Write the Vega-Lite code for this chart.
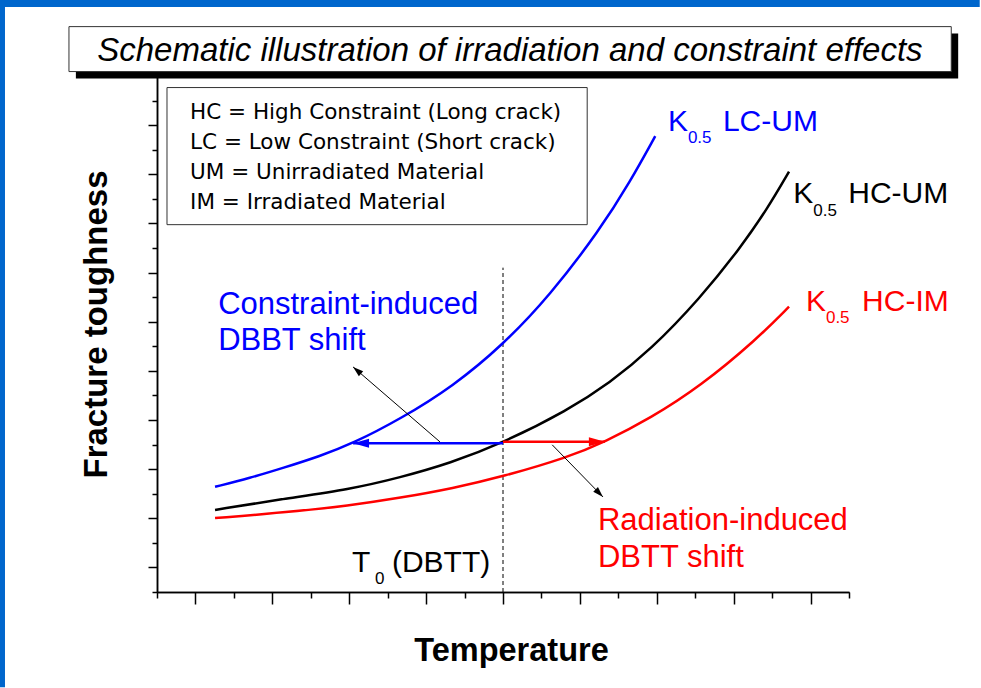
{
  "$schema": "https://vega.github.io/schema/vega-lite/v6.json",
  "width": 692,
  "height": 516,
  "autosize": "none",
  "padding": {"left": 157, "top": 76, "right": 132, "bottom": 96},
  "background": "white",
  "config": {"view": {"stroke": null}},
  "data": {"values": [{}]},
  "resolve": {"axis": {"x": "independent", "y": "independent"}},
  "datasets": {
    "curves": [
      {"series": "LC-UM", "t": 1.51, "k": 4.28},
      {"series": "LC-UM", "t": 2.42, "k": 4.64},
      {"series": "LC-UM", "t": 3.28, "k": 5.05},
      {"series": "LC-UM", "t": 4.24, "k": 5.53},
      {"series": "LC-UM", "t": 5.10, "k": 6.05},
      {"series": "LC-UM", "t": 6.32, "k": 7.03},
      {"series": "LC-UM", "t": 7.70, "k": 8.37},
      {"series": "LC-UM", "t": 9.00, "k": 10.06},
      {"series": "LC-UM", "t": 10.22, "k": 12.07},
      {"series": "LC-UM", "t": 11.52, "k": 14.74},
      {"series": "LC-UM", "t": 12.30, "k": 16.68},
      {"series": "LC-UM", "t": 12.96, "k": 18.55},
      {"series": "HC-UM", "t": 1.51, "k": 3.34},
      {"series": "HC-UM", "t": 3.28, "k": 3.79},
      {"series": "HC-UM", "t": 5.02, "k": 4.18},
      {"series": "HC-UM", "t": 6.32, "k": 4.66},
      {"series": "HC-UM", "t": 7.62, "k": 5.24},
      {"series": "HC-UM", "t": 9.00, "k": 6.07},
      {"series": "HC-UM", "t": 10.67, "k": 7.38},
      {"series": "HC-UM", "t": 11.78, "k": 8.52},
      {"series": "HC-UM", "t": 12.83, "k": 9.84},
      {"series": "HC-UM", "t": 14.13, "k": 11.96},
      {"series": "HC-UM", "t": 15.17, "k": 14.00},
      {"series": "HC-UM", "t": 15.87, "k": 15.58},
      {"series": "HC-UM", "t": 16.44, "k": 17.11},
      {"series": "HC-IM", "t": 1.51, "k": 3.01},
      {"series": "HC-IM", "t": 3.28, "k": 3.23},
      {"series": "HC-IM", "t": 5.02, "k": 3.52},
      {"series": "HC-IM", "t": 6.32, "k": 3.83},
      {"series": "HC-IM", "t": 7.70, "k": 4.22},
      {"series": "HC-IM", "t": 9.00, "k": 4.70},
      {"series": "HC-IM", "t": 10.67, "k": 5.47},
      {"series": "HC-IM", "t": 11.65, "k": 6.11},
      {"series": "HC-IM", "t": 12.83, "k": 7.07},
      {"series": "HC-IM", "t": 14.13, "k": 8.37},
      {"series": "HC-IM", "t": 15.61, "k": 10.30},
      {"series": "HC-IM", "t": 16.44, "k": 11.61}
    ],
    "arrows": [
      {"arrow": "constraint", "series": "LC-UM", "x": 9.0, "y": 6.05, "tipx": 5.10, "tipy": 6.05},
      {"arrow": "radiation", "series": "HC-IM", "x": 9.0, "y": 6.11, "tipx": 11.65, "tipy": 6.11},
      {"arrow": "constraintPointer", "series": "HC-UM", "x": 7.36, "y": 6.11, "tipx": 5.10, "tipy": 9.16},
      {"arrow": "radiationPointer", "series": "HC-UM", "x": 10.28, "y": 5.99, "tipx": 11.60, "tipy": 3.87}
    ],
    "labels": [
      {"text": "K", "series": "LC-UM", "role": "main", "x": 13.29, "y": 18.76},
      {"text": "0.5", "series": "LC-UM", "role": "sub", "x": 13.81, "y": 18.29},
      {"text": "LC-UM", "series": "LC-UM", "role": "main", "x": 14.72, "y": 18.76},
      {"text": "K", "series": "HC-UM", "role": "main", "x": 16.55, "y": 15.85},
      {"text": "0.5", "series": "HC-UM", "role": "sub", "x": 17.07, "y": 15.32},
      {"text": "HC-UM", "series": "HC-UM", "role": "main", "x": 17.98, "y": 15.85},
      {"text": "K", "series": "HC-IM", "role": "main", "x": 16.88, "y": 11.45},
      {"text": "0.5", "series": "HC-IM", "role": "sub", "x": 17.40, "y": 10.96},
      {"text": "HC-IM", "series": "HC-IM", "role": "main", "x": 18.34, "y": 11.45},
      {"text": "Constraint-induced", "series": "LC-UM", "role": "note", "x": 1.59, "y": 11.32},
      {"text": "DBBT shift", "series": "LC-UM", "role": "note", "x": 1.59, "y": 9.86},
      {"text": "Radiation-induced", "series": "HC-IM", "role": "note", "x": 11.47, "y": 2.53},
      {"text": "DBTT shift", "series": "HC-IM", "role": "note", "x": 11.47, "y": 1.02},
      {"text": "T", "series": "HC-UM", "role": "main", "x": 5.07, "y": 0.81},
      {"text": "0", "series": "HC-UM", "role": "sub", "x": 5.67, "y": 0.33},
      {"text": "(DBTT)", "series": "HC-UM", "role": "main", "x": 6.11, "y": 0.81}
    ],
    "legendLines": [
      {"line": "HC = High Constraint (Long crack)", "x": 0.86, "y": 19.27},
      {"line": "LC = Low Constraint (Short crack)", "x": 0.86, "y": 18.04},
      {"line": "UM = Unirradiated Material", "x": 0.86, "y": 16.82},
      {"line": "IM = Irradiated Material", "x": 0.86, "y": 15.60}
    ]
  },
  "layer": [
    {
      "mark": {"type": "rect", "clip": false, "color": "#0066cc"},
      "encoding": {
        "x": {"datum": -4.084, "type": "quantitative", "scale": {"domain": [0, 18], "nice": false, "zero": false}, "axis": null},
        "x2": {"datum": 21.4},
        "y": {"datum": 24.09, "type": "quantitative", "scale": {"domain": [0, 21], "nice": false, "zero": false}, "axis": null},
        "y2": {"datum": 23.81}
      }
    },
    {
      "mark": {"type": "rect", "clip": false, "color": "#0066cc"},
      "encoding": {
        "x": {"datum": -4.084, "type": "quantitative", "scale": {"domain": [0, 18], "nice": false, "zero": false}, "axis": null},
        "x2": {"datum": -3.954},
        "y": {"datum": 24.09, "type": "quantitative", "scale": {"domain": [0, 21], "nice": false, "zero": false}, "axis": null},
        "y2": {"datum": -3.88}
      }
    },
    {
      "mark": {"type": "rect", "clip": false, "color": "black"},
      "encoding": {
        "x": {"datum": -2.11, "type": "quantitative", "scale": {"domain": [0, 18], "nice": false, "zero": false}, "axis": null},
        "x2": {"datum": 20.84},
        "y": {"datum": 22.73, "type": "quantitative", "scale": {"domain": [0, 21], "nice": false, "zero": false}, "axis": null},
        "y2": {"datum": 20.9}
      }
    },
    {
      "mark": {"type": "rect", "clip": false, "fill": "white", "stroke": "#333333", "strokeWidth": 1},
      "encoding": {
        "x": {"datum": -2.29, "type": "quantitative", "scale": {"domain": [0, 18], "nice": false, "zero": false}, "axis": null},
        "x2": {"datum": 20.66},
        "y": {"datum": 23.01, "type": "quantitative", "scale": {"domain": [0, 21], "nice": false, "zero": false}, "axis": null},
        "y2": {"datum": 21.18}
      }
    },
    {
      "mark": {"type": "text", "clip": false, "font": "Liberation Sans", "fontStyle": "italic", "fontSize": 33, "align": "center", "baseline": "alphabetic", "color": "black"},
      "encoding": {
        "x": {"datum": 9.18, "type": "quantitative", "scale": {"domain": [0, 18], "nice": false, "zero": false}, "axis": null},
        "y": {"datum": 21.63, "type": "quantitative", "scale": {"domain": [0, 21], "nice": false, "zero": false}, "axis": null},
        "text": {"value": "Schematic illustration of irradiation and constraint effects"}
      }
    },
    {
      "mark": {"type": "rect", "clip": false, "fill": "white", "stroke": "#333333", "strokeWidth": 1},
      "encoding": {
        "x": {"datum": 0.26, "type": "quantitative", "scale": {"domain": [0, 18], "nice": false, "zero": false}, "axis": null},
        "x2": {"datum": 11.19},
        "y": {"datum": 20.53, "type": "quantitative", "scale": {"domain": [0, 21], "nice": false, "zero": false}, "axis": null},
        "y2": {"datum": 14.95}
      }
    },
    {
      "data": {"name": "legendLines"},
      "mark": {"type": "text", "font": "DejaVu Sans", "fontSize": 21.5, "align": "left", "baseline": "alphabetic", "color": "black"},
      "encoding": {
        "x": {"field": "x", "type": "quantitative", "scale": {"domain": [0, 18], "nice": false, "zero": false}, "axis": null},
        "y": {"field": "y", "type": "quantitative", "scale": {"domain": [0, 21], "nice": false, "zero": false}, "axis": null},
        "text": {"field": "line"}
      }
    },
    {
      "mark": {"type": "rule", "color": "black", "strokeWidth": 1, "strokeDash": [4, 3]},
      "encoding": {
        "x": {
          "datum": 9, "type": "quantitative",
          "scale": {"domain": [0, 18], "nice": false, "zero": false},
          "axis": {
            "orient": "bottom", "title": null,
            "values": [0, 2, 4, 6, 8, 10, 12, 14, 16, 18],
            "labels": false, "grid": false,
            "domainColor": "black", "domainWidth": 1.5,
            "tickColor": "black", "tickWidth": 1.5, "tickSize": 6
          }
        },
        "y": {
          "datum": 0, "type": "quantitative",
          "scale": {"domain": [0, 21], "nice": false, "zero": false},
          "axis": {
            "orient": "left", "title": null,
            "values": [0, 2, 4, 6, 8, 10, 12, 14, 16, 18, 20],
            "labels": false, "grid": false,
            "domainColor": "black", "domainWidth": 1.5,
            "tickColor": "black", "tickWidth": 1.5, "tickSize": 5
          }
        },
        "y2": {"datum": 13.2}
      }
    },
    {
      "data": {"name": "curves"},
      "mark": {"type": "line", "strokeWidth": 2.5, "interpolate": "basis"},
      "encoding": {
        "x": {
          "field": "t", "type": "quantitative",
          "scale": {"domain": [0, 18], "nice": false, "zero": false},
          "axis": {
            "orient": "bottom", "title": "Temperature",
            "values": [1, 3, 5, 7, 9, 11, 13, 15, 17],
            "labels": false, "grid": false,
            "domainColor": "black", "domainWidth": 1.5,
            "tickColor": "black", "tickWidth": 1.5, "tickSize": 12,
            "titleFont": "Liberation Sans", "titleFontSize": 32.5, "titleFontWeight": "bold", "titleColor": "black",
            "titlePadding": 30, "titleX": 354, "titleY": 42
          }
        },
        "y": {
          "field": "k", "type": "quantitative",
          "scale": {"domain": [0, 21], "nice": false, "zero": false},
          "axis": {
            "orient": "left", "title": "Fracture toughness",
            "values": [1, 3, 5, 7, 9, 11, 13, 15, 17, 19],
            "labels": false, "grid": false,
            "domainColor": "black", "domainWidth": 1.5,
            "tickColor": "black", "tickWidth": 1.5, "tickSize": 9,
            "titleFont": "Liberation Sans", "titleFontSize": 33, "titleFontWeight": "bold", "titleColor": "black",
            "titlePadding": 35, "titleX": -44, "titleY": 248
          }
        },
        "color": {"field": "series", "type": "nominal", "scale": {"domain": ["LC-UM", "HC-UM", "HC-IM"], "range": ["#0000ff", "#000000", "#ff0000"]}, "legend": null},
        "detail": {"field": "series"}
      }
    },
    {
      "data": {"name": "arrows"},
      "transform": [{"filter": "datum.arrow === 'constraint' || datum.arrow === 'radiation'"}],
      "mark": {"type": "rule", "strokeWidth": 2.5},
      "encoding": {
        "x": {"field": "x", "type": "quantitative", "scale": {"domain": [0, 18], "nice": false, "zero": false}, "axis": null},
        "y": {"field": "y", "type": "quantitative", "scale": {"domain": [0, 21], "nice": false, "zero": false}, "axis": null},
        "x2": {"field": "tipx"},
        "y2": {"field": "tipy"},
        "color": {"field": "series", "type": "nominal", "scale": {"domain": ["LC-UM", "HC-UM", "HC-IM"], "range": ["#0000ff", "#000000", "#ff0000"]}, "legend": null}
      }
    },
    {
      "data": {"name": "arrows"},
      "transform": [{"filter": "datum.arrow === 'constraintPointer' || datum.arrow === 'radiationPointer'"}],
      "mark": {"type": "rule", "strokeWidth": 1, "color": "black"},
      "encoding": {
        "x": {"field": "x", "type": "quantitative", "scale": {"domain": [0, 18], "nice": false, "zero": false}, "axis": null},
        "y": {"field": "y", "type": "quantitative", "scale": {"domain": [0, 21], "nice": false, "zero": false}, "axis": null},
        "x2": {"field": "tipx"},
        "y2": {"field": "tipy"}
      }
    },
    {
      "data": {"name": "arrows"},
      "transform": [{"filter": "datum.arrow === 'constraint'"}],
      "mark": {"type": "point", "filled": true, "opacity": 1, "shape": "M0,0L-3.2,-0.9L-3.2,0.9Z", "size": 100, "angle": 180, "strokeWidth": 0},
      "encoding": {
        "x": {"field": "tipx", "type": "quantitative", "scale": {"domain": [0, 18], "nice": false, "zero": false}, "axis": null},
        "y": {"field": "tipy", "type": "quantitative", "scale": {"domain": [0, 21], "nice": false, "zero": false}, "axis": null},
        "color": {"field": "series", "type": "nominal", "scale": {"domain": ["LC-UM", "HC-UM", "HC-IM"], "range": ["#0000ff", "#000000", "#ff0000"]}, "legend": null}
      }
    },
    {
      "data": {"name": "arrows"},
      "transform": [{"filter": "datum.arrow === 'radiation'"}],
      "mark": {"type": "point", "filled": true, "opacity": 1, "shape": "M0,0L-3.2,-0.9L-3.2,0.9Z", "size": 100, "angle": 0, "strokeWidth": 0},
      "encoding": {
        "x": {"field": "tipx", "type": "quantitative", "scale": {"domain": [0, 18], "nice": false, "zero": false}, "axis": null},
        "y": {"field": "tipy", "type": "quantitative", "scale": {"domain": [0, 21], "nice": false, "zero": false}, "axis": null},
        "color": {"field": "series", "type": "nominal", "scale": {"domain": ["LC-UM", "HC-UM", "HC-IM"], "range": ["#0000ff", "#000000", "#ff0000"]}, "legend": null}
      }
    },
    {
      "data": {"name": "arrows"},
      "transform": [{"filter": "datum.arrow === 'constraintPointer'"}],
      "mark": {"type": "point", "filled": true, "opacity": 1, "shape": "M0,0L-3.5,-1.1L-3.5,1.1Z", "size": 36, "angle": 220.8, "strokeWidth": 0, "color": "black"},
      "encoding": {
        "x": {"field": "tipx", "type": "quantitative", "scale": {"domain": [0, 18], "nice": false, "zero": false}, "axis": null},
        "y": {"field": "tipy", "type": "quantitative", "scale": {"domain": [0, 21], "nice": false, "zero": false}, "axis": null}
      }
    },
    {
      "data": {"name": "arrows"},
      "transform": [{"filter": "datum.arrow === 'radiationPointer'"}],
      "mark": {"type": "point", "filled": true, "opacity": 1, "shape": "M0,0L-3.5,-1.1L-3.5,1.1Z", "size": 36, "angle": 45.6, "strokeWidth": 0, "color": "black"},
      "encoding": {
        "x": {"field": "tipx", "type": "quantitative", "scale": {"domain": [0, 18], "nice": false, "zero": false}, "axis": null},
        "y": {"field": "tipy", "type": "quantitative", "scale": {"domain": [0, 21], "nice": false, "zero": false}, "axis": null}
      }
    },
    {
      "data": {"name": "labels"},
      "transform": [{"filter": "datum.role === 'main'"}],
      "mark": {"type": "text", "clip": false, "font": "Liberation Sans", "fontSize": 30, "align": "left", "baseline": "alphabetic"},
      "encoding": {
        "x": {"field": "x", "type": "quantitative", "scale": {"domain": [0, 18], "nice": false, "zero": false}, "axis": null},
        "y": {"field": "y", "type": "quantitative", "scale": {"domain": [0, 21], "nice": false, "zero": false}, "axis": null},
        "text": {"field": "text"},
        "color": {"field": "series", "type": "nominal", "scale": {"domain": ["LC-UM", "HC-UM", "HC-IM"], "range": ["#0000ff", "#000000", "#ff0000"]}, "legend": null}
      }
    },
    {
      "data": {"name": "labels"},
      "transform": [{"filter": "datum.role === 'sub'"}],
      "mark": {"type": "text", "clip": false, "font": "Liberation Sans", "fontSize": 17, "align": "left", "baseline": "alphabetic"},
      "encoding": {
        "x": {"field": "x", "type": "quantitative", "scale": {"domain": [0, 18], "nice": false, "zero": false}, "axis": null},
        "y": {"field": "y", "type": "quantitative", "scale": {"domain": [0, 21], "nice": false, "zero": false}, "axis": null},
        "text": {"field": "text"},
        "color": {"field": "series", "type": "nominal", "scale": {"domain": ["LC-UM", "HC-UM", "HC-IM"], "range": ["#0000ff", "#000000", "#ff0000"]}, "legend": null}
      }
    },
    {
      "data": {"name": "labels"},
      "transform": [{"filter": "datum.role === 'note'"}],
      "mark": {"type": "text", "clip": false, "font": "Liberation Sans", "fontSize": 31, "align": "left", "baseline": "alphabetic"},
      "encoding": {
        "x": {"field": "x", "type": "quantitative", "scale": {"domain": [0, 18], "nice": false, "zero": false}, "axis": null},
        "y": {"field": "y", "type": "quantitative", "scale": {"domain": [0, 21], "nice": false, "zero": false}, "axis": null},
        "text": {"field": "text"},
        "color": {"field": "series", "type": "nominal", "scale": {"domain": ["LC-UM", "HC-UM", "HC-IM"], "range": ["#0000ff", "#000000", "#ff0000"]}, "legend": null}
      }
    }
  ]
}
